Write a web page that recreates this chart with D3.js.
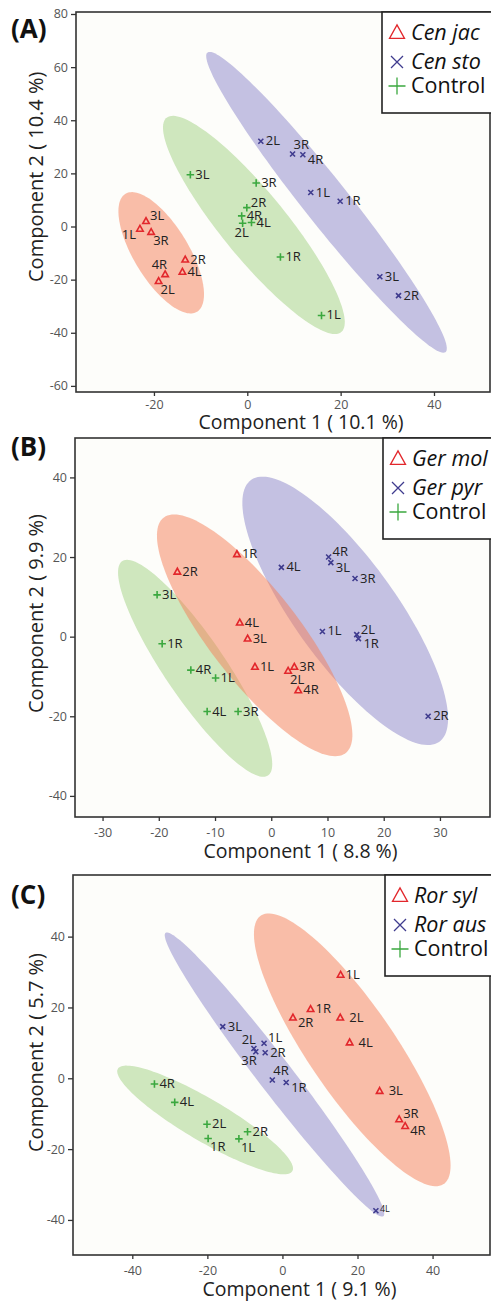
<!DOCTYPE html>
<html>
<head>
<meta charset="utf-8">
<script src="https://cdn.jsdelivr.net/npm/d3@7"></script>
<style>
  body { margin: 0; background: #fff; }
  text { font-family: "Open Sans", sans-serif; }
</style>
</head>
<body>
<div id="chart"></div>
<script>
// --- Data: sample scores [label, component 1, component 2] ---
// (A)
const cenJac = [["3L", -21.7, 2.0], ["1L", -23.0, -0.9], ["3R", -20.6, -2.1], ["2R", -13.3, -12.5],
  ["4R", -17.6, -18.0], ["4L", -13.9, -17.1], ["2L", -19.0, -20.6]];
const cenSto = [["2L", 2.9, 32.1], ["3R", 9.7, 27.3], ["4R", 11.9, 27.0], ["1L", 13.6, 12.8],
  ["1R", 19.9, 9.5], ["3L", 28.4, -18.9], ["2R", 32.4, -26.0]];
const controlA = [["3L", -12.2, 19.5], ["3R", 1.9, 16.4], ["2R", -0.1, 7.1], ["4R", -1.2, 4.0],
  ["2L", -1.0, 1.2], ["4L", 0.9, 1.5], ["1R", 7.1, -11.5], ["1L", 15.9, -33.5]];
const xTicksA = [-20, 0, 20, 40];
const yTicksA = [-60, -40, -20, 0, 20, 40, 60, 80];
const varA = ["10.1", "10.4"];

// (B)
const gerMol = [["1R", -6.1, 20.7], ["2R", -16.7, 16.3], ["4L", -5.6, 3.5], ["3L", -4.2, -0.5],
  ["1L", -2.9, -7.6], ["2L", 3.0, -8.6], ["3R", 4.1, -7.6], ["4R", 4.8, -13.5]];
const gerPyr = [["4L", 1.8, 17.4], ["4R", 10.2, 20.0], ["3L", 10.6, 18.6], ["3R", 14.9, 14.6],
  ["1L", 9.1, 1.3], ["2L", 15.2, 0.5], ["1R", 15.5, -0.5], ["2R", 27.9, -20.0]];
const controlB = [["3L", -20.3, 10.5], ["1R", -19.4, -1.8], ["4R", -14.3, -8.4], ["1L", -9.9, -10.4],
  ["4L", -11.4, -18.8], ["3R", -5.9, -18.8]];
const xTicksB = [-30, -20, -10, 0, 10, 20, 30];
const yTicksB = [-40, -20, 0, 20, 40];
const varB = ["8.8", "9.9"];

// (C)
const rorSyl = [["1L", 15.5, 29.2], ["1R", 7.5, 19.5], ["2R", 2.8, 17.1], ["2L", 15.4, 17.1],
  ["4L", 17.9, 10.1], ["3L", 25.9, -3.6], ["3R", 31.1, -11.6], ["4R", 32.7, -13.5]];
const rorAus = [["3L", -15.9, 14.6], ["1L", -4.9, 9.9], ["2L", -7.6, 8.4], ["3R", -7.1, 7.5],
  ["2R", -4.6, 7.2], ["4R", -2.7, -0.5], ["1R", 1.0, -1.2], ["4L", 24.9, -37.4]];
const controlC = [["4R", -34.1, -1.6], ["4L", -28.7, -6.8], ["2L", -20.1, -13.0], ["1R", -19.8, -17.0],
  ["1L", -11.6, -17.1], ["2R", -9.3, -15.1]];
const xTicksC = [-40, -20, 0, 20, 40];
const yTicksC = [-40, -20, 0, 20, 40];
const varC = ["9.1", "5.7"];

// --- Styles ---
const W = 491, H = 1303;
const strokeCol = { tri: "#e2272c", cross: "#3f3b8e", plus: "#3ba83f" };
const fillCol = { tri: "rgba(245,125,85,0.5)", cross: "rgba(85,75,178,0.34)", plus: "rgba(118,188,72,0.34)" };
const drawOrder = { cross: 0, plus: 1, tri: 2 };
const CHI95 = Math.sqrt(5.991465); // sqrt(qchisq(0.95, 2))

// label placement codes: [anchor, dx, dy]
const place = {
  r: ["start", 5, 4], rr: ["start", 9, 4], ur: ["start", 4, -1], a: ["start", 1, -5],
  br: ["start", 2, 13], dr: ["start", 5, 9], b: ["middle", -1, 14],
  al: ["end", 2, -5], bl: ["end", 1, 13], l: ["end", -4, 10], rs: ["start", 4, 1]
};

const panels = [
  {
    tag: "(A)", tagY: 38, box: { l: 76, t: 12, r: 490, b: 392 },
    xDom: [-36.7, 52], yDom: [-62.3, 80.75], xTicks: xTicksA, yTicks: yTicksA, vars: varA,
    xTickPad: 4, xTitleY: 429, yTitleY: 282, legendL: 382,
    groups: [
      { name: "Cen jac", italic: true, shape: "tri", pts: cenJac,
        lab: { "3L": "ur", "1L": "l", "3R": "br", "2R": "r", "4R": "al", "4L": "r", "2L": "br" } },
      { name: "Cen sto", italic: true, shape: "cross", pts: cenSto,
        lab: { "2L": "r", "3R": "a", "4R": "dr", "1L": "r", "1R": "r", "3L": "r", "2R": "r" } },
      { name: "Control", italic: false, shape: "plus", pts: controlA,
        lab: { "3L": "r", "3R": "r", "2R": "ur", "4R": "r", "2L": "b", "4L": "r", "1R": "r", "1L": "r" } }
    ]
  },
  {
    tag: "(B)", tagY: 456, box: { l: 75, t: 438, r: 490, b: 817 },
    xDom: [-34.9, 38.9], yDom: [-45.3, 49.9], xTicks: xTicksB, yTicks: yTicksB, vars: varB,
    xTickPad: 7, xTitleY: 858, yTitleY: 713, legendL: 383,
    groups: [
      { name: "Ger mol", italic: true, shape: "tri", pts: gerMol,
        lab: { "1R": "r", "2R": "r", "4L": "r", "3L": "r", "1L": "r", "2L": "br", "3R": "r", "4R": "r" } },
      { name: "Ger pyr", italic: true, shape: "cross", pts: gerPyr,
        lab: { "4L": "r", "4R": "ur", "3L": "dr", "3R": "r", "1L": "r", "2L": "ur", "1R": "dr", "2R": "r" } },
      { name: "Control", italic: false, shape: "plus", pts: controlB,
        lab: { "3L": "r", "1R": "r", "4R": "r", "1L": "r", "4L": "r", "3R": "r" } }
    ]
  },
  {
    tag: "(C)", tagY: 904, box: { l: 73, t: 875, r: 490, b: 1255 },
    xDom: [-55.8, 55.3], yDom: [-49.9, 57.4], xTicks: xTicksC, yTicks: yTicksC, vars: varC,
    xTickPad: 7, xTitleY: 1296, yTitleY: 1152, legendL: 385,
    groups: [
      { name: "Ror syl", italic: true, shape: "tri", pts: rorSyl,
        lab: { "1L": "r", "1R": "r", "2R": "dr", "2L": "rr", "4L": "rr", "3L": "rr", "3R": "ur", "4R": "dr" } },
      { name: "Ror aus", italic: true, shape: "cross", pts: rorAus,
        lab: { "3L": "r", "1L": "ur", "2L": "al", "3R": "bl", "2R": "r", "4R": "a", "1R": "dr", "4L": "rs" } },
      { name: "Control", italic: false, shape: "plus", pts: controlC,
        lab: { "4R": "r", "4L": "r", "2L": "r", "1R": "br", "1L": "br", "2R": "r" } }
    ]
  }
];

// --- SVG ---
const svg = d3.select("#chart").append("svg")
  .attr("width", W).attr("height", H)
  .attr("viewBox", [0, 0, W, H]);
const defs = svg.append("defs");

// draw a marker symbol of given shape centred on (cx, cy)
function drawSymbol(g, shape, cx, cy, s, sw) {
  const col = strokeCol[shape];
  if (shape === "tri") {
    const h = s * 0.9;
    g.append("path")
      .attr("d", `M${cx},${cy - h * 0.6}L${cx + s / 2},${cy + h * 0.4}L${cx - s / 2},${cy + h * 0.4}Z`)
      .attr("fill", "none").attr("stroke", col).attr("stroke-width", sw).attr("stroke-linejoin", "miter");
  } else if (shape === "cross") {
    const r = s / 2;
    g.append("path")
      .attr("d", `M${cx - r},${cy - r}L${cx + r},${cy + r}M${cx - r},${cy + r}L${cx + r},${cy - r}`)
      .attr("stroke", col).attr("stroke-width", sw);
  } else {
    const r = s / 2;
    g.append("path")
      .attr("d", `M${cx - r},${cy}L${cx + r},${cy}M${cx},${cy - r}L${cx},${cy + r}`)
      .attr("stroke", col).attr("stroke-width", sw);
  }
}

// 95% confidence ellipse from the sample covariance
function ellipse(pts, n = 140) {
  const xs = pts.map(p => p[1]), ys = pts.map(p => p[2]);
  const mx = d3.mean(xs), my = d3.mean(ys), k = pts.length - 1;
  const sxx = d3.sum(xs, v => (v - mx) ** 2) / k;
  const syy = d3.sum(ys, v => (v - my) ** 2) / k;
  const sxy = d3.sum(pts, p => (p[1] - mx) * (p[2] - my)) / k;
  const tr = sxx + syy, det = sxx * syy - sxy * sxy;
  const disc = Math.sqrt(Math.max(0, tr * tr / 4 - det));
  const l1 = tr / 2 + disc, l2 = Math.max(0, tr / 2 - disc);
  const th = 0.5 * Math.atan2(2 * sxy, sxx - syy);
  const a = CHI95 * Math.sqrt(l1), b = CHI95 * Math.sqrt(l2);
  return d3.range(n).map(i => {
    const t = (i / n) * 2 * Math.PI;
    return [mx + a * Math.cos(t) * Math.cos(th) - b * Math.sin(t) * Math.sin(th),
            my + a * Math.cos(t) * Math.sin(th) + b * Math.sin(t) * Math.cos(th)];
  });
}

panels.forEach((p, pi) => {
  const { l, t, r, b } = p.box;
  const x = d3.scaleLinear().domain(p.xDom).range([l, r]);
  const y = d3.scaleLinear().domain(p.yDom).range([b, t]);
  const g = svg.append("g");

  // plot background
  g.append("rect").attr("x", l).attr("y", t).attr("width", r - l).attr("height", b - t)
    .attr("fill", "#fdfdfa");

  defs.append("clipPath").attr("id", `clip-${pi}`)
    .append("rect").attr("x", l).attr("y", t).attr("width", r - l).attr("height", b - t);

  // ellipses
  const line = d3.line().x(d => x(d[0])).y(d => y(d[1])).curve(d3.curveLinearClosed);
  const eg = g.append("g").attr("clip-path", `url(#clip-${pi})`);
  p.groups.slice().sort((a1, a2) => drawOrder[a1.shape] - drawOrder[a2.shape]).forEach(gr => {
    eg.append("path").attr("d", line(ellipse(gr.pts))).attr("fill", fillCol[gr.shape]);
  });

  // points and labels
  const mg = g.append("g");
  p.groups.forEach(gr => {
    gr.pts.forEach(([name, vx, vy]) => {
      const px = x(vx), py = y(vy);
      const sz = gr.shape === "tri" ? 6.5 : gr.shape === "cross" ? 5 : 7.5;
      drawSymbol(mg, gr.shape, px, py, sz, 1.6);
      const code = gr.lab[name] || "r";
      const [anchor, dx, dy] = place[code];
      mg.append("text")
        .attr("x", px + dx).attr("y", py + dy)
        .attr("text-anchor", anchor)
        .attr("font-size", code === "rs" ? 9 : 13)
        .attr("fill", "#222")
        .text(name);
    });
  });

  // frame
  g.append("rect").attr("x", l).attr("y", t).attr("width", r - l).attr("height", b - t)
    .attr("fill", "none").attr("stroke", "#333").attr("stroke-width", 1.6);

  // axes
  const ya = g.append("g").attr("transform", `translate(${l},0)`)
    .call(d3.axisLeft(y).tickValues(p.yTicks).tickFormat(d => String(d)).tickSize(5).tickPadding(3));
  const xa = g.append("g").attr("transform", `translate(0,${b})`)
    .call(d3.axisBottom(x).tickValues(p.xTicks).tickFormat(d => String(d)).tickSize(4).tickPadding(p.xTickPad));
  [ya, xa].forEach(ax => {
    ax.select(".domain").remove();
    ax.selectAll(".tick line").attr("stroke", "#333").attr("stroke-width", 1.3);
    ax.selectAll(".tick text").attr("fill", "#555").attr("font-size", 12.5)
      .attr("font-family", '"Open Sans", sans-serif');
  });

  // axis titles
  g.append("text")
    .attr("x", (l + r) / 2 + 18).attr("y", p.xTitleY)
    .attr("text-anchor", "middle").attr("font-size", 19.5).attr("fill", "#222")
    .text(`Component 1 ( ${p.vars[0]} %)`);
  g.append("text")
    .attr("transform", `translate(43,${p.yTitleY}) rotate(-90)`)
    .attr("text-anchor", "start").attr("font-size", 20).attr("fill", "#222")
    .text(`Component 2 ( ${p.vars[1]} %)`);

  // panel tag
  g.append("text").attr("x", 11).attr("y", p.tagY)
    .attr("font-size", 26).attr("font-weight", 700).attr("fill", "#111")
    .text(p.tag);

  // legend
  const lg = g.append("g");
  lg.append("rect").attr("x", p.legendL).attr("y", t).attr("width", W + 5 - p.legendL).attr("height", 101)
    .attr("fill", "#fff").attr("stroke", "#222").attr("stroke-width", 1.6);
  const rowY = [21, 50, 74];
  p.groups.forEach((gr, i) => {
    const cy = t + rowY[i];
    const s = gr.shape === "tri" ? 15 : gr.shape === "cross" ? 12 : 17;
    drawSymbol(lg, gr.shape, p.legendL + 15, cy, s, 1.3);
    lg.append("text")
      .attr("x", p.legendL + 29).attr("y", cy + 7)
      .attr("font-size", 21.5).attr("fill", "#111")
      .attr("font-style", gr.italic ? "italic" : "normal")
      .text(gr.name);
  });
});
</script>
</body>
</html>
